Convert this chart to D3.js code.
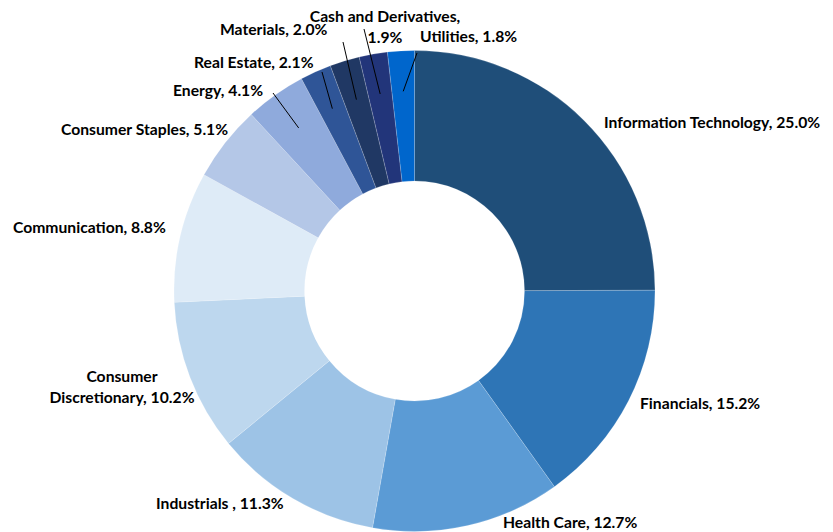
<!DOCTYPE html>
<html>
<head>
<meta charset="utf-8">
<script src="https://cdn.jsdelivr.net/npm/d3@7"></script>
<style>
    body { margin: 0; background: #fff; }
    text { font-family: Lato, "Open Sans", sans-serif; font-weight: bold; font-size: 15.7px; fill: #000; }
</style>
</head>
<body>
<div id="chart"></div>
<script>
// Sector weights, clockwise from 12 o'clock
var sectors = ["Information Technology", "Financials", "Health Care", "Industrials ",
    "Consumer Discretionary", "Communication", "Consumer Staples", "Energy",
    "Real Estate", "Materials", "Cash and Derivatives", "Utilities"];
var weights = [25.0, 15.2, 12.7, 11.3, 10.2, 8.8, 5.1, 4.1, 2.1, 2.0, 1.9, 1.8];
var colours = ["#1F4E79", "#2E75B6", "#5B9BD5", "#9DC3E6", "#BDD7EE", "#DEEBF7",
    "#B4C7E7", "#8FAADC", "#2F5597", "#203864", "#22357A", "#0066CC"];

// where each label sits (x, y of first line centre), text anchor, and where its leader line starts
var labelLayout = [
    {x: 604, y: 124, anchor: "start"},
    {x: 640, y: 405, anchor: "start"},
    {x: 503, y: 524, anchor: "start"},
    {x: 156, y: 505, anchor: "start"},
    {x: 122, y: 378, anchor: "middle", split: true},
    {x: 13, y: 229, anchor: "start"},
    {x: 61, y: 131, anchor: "start"},
    {x: 173, y: 92, anchor: "start", leader: [273, 93]},
    {x: 194, y: 64, anchor: "start", leader: [322, 72]},
    {x: 220, y: 31, anchor: "start", leader: [343, 42]},
    {x: 385, y: 18, anchor: "middle", split: true, leader: [364, 29]},
    {x: 420, y: 38, anchor: "start", leader: [417, 53]}
];

var width = 833, height = 532;
var cx = 414.5, cy = 291, outerR = 240.5, innerR = 110;

var svg = d3.select("#chart")
    .append("svg")
    .attr("width", width)
    .attr("height", height);

var g = svg.append("g")
    .attr("transform", "translate(" + cx + "," + cy + ")");

var pie = d3.pie()
    .sort(null)
    .value(function (d) { return d; });

var arc = d3.arc()
    .outerRadius(outerR)
    .innerRadius(innerR);

var slices = pie(weights);

g.selectAll(".arc")
    .data(slices)
    .enter()
    .append("path")
    .attr("class", "arc")
    .attr("d", arc)
    .style("fill", function (d, i) { return colours[i]; })
    .style("stroke", "#ffffff")
    .style("stroke-width", 0.5)
    .style("stroke-opacity", 0.35);

// leader lines go from the label to a point inside the slice
var leaderArc = d3.arc().innerRadius(200).outerRadius(200);

slices.forEach(function (d, i) {
    var lay = labelLayout[i];
    if (!lay.leader) return;
    var p = leaderArc.centroid(d);
    svg.append("line")
        .attr("x1", lay.leader[0])
        .attr("y1", lay.leader[1])
        .attr("x2", cx + p[0])
        .attr("y2", cy + p[1])
        .style("stroke", "#000")
        .style("stroke-width", 1);
});

// labels
slices.forEach(function (d, i) {
    var lay = labelLayout[i];
    var pct = weights[i].toFixed(1) + "%";
    var lines;
    if (lay.split) {
        var words = sectors[i].split(" ");
        if (i === 4) lines = [words[0], words[1] + ", " + pct];
        else lines = [sectors[i] + ",", pct];
    } else {
        lines = [sectors[i] + ", " + pct];
    }
    var t = svg.append("text")
        .attr("x", lay.x)
        .attr("y", lay.y)
        .attr("dominant-baseline", "middle")
        .style("text-anchor", lay.anchor);
    lines.forEach(function (line, j) {
        t.append("tspan")
            .attr("x", lay.x)
            .attr("dy", j === 0 ? 0 : 21)
            .text(line);
    });
});
</script>
</body>
</html>
